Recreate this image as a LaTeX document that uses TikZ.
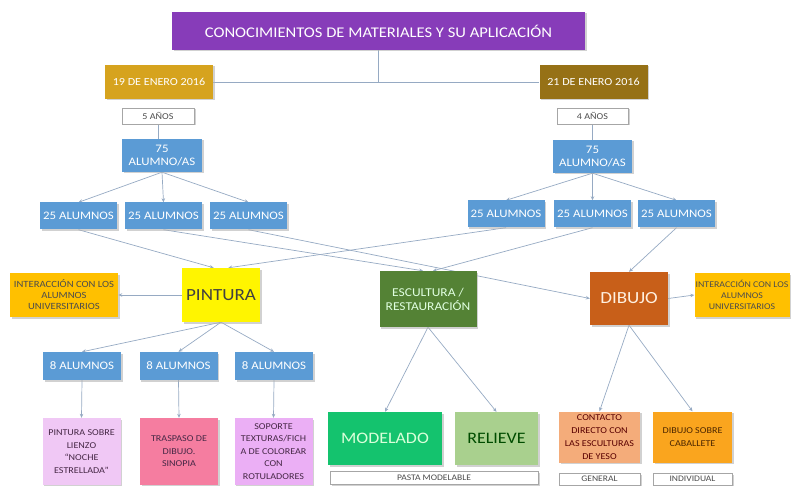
\documentclass[tikz,border=0pt]{standalone}
\usepackage{fontspec}
\setmainfont[FakeStretch=1.12]{Carlito}
\usepackage{xcolor}
\definecolor{mmpurple}{RGB}{135,60,185}
\definecolor{mmgold}{RGB}{214,163,30}
\definecolor{mmolive}{RGB}{150,113,22}
\definecolor{mmblue}{RGB}{91,155,213}
\definecolor{mmyellow}{RGB}{255,245,0}
\definecolor{mmamber}{RGB}{255,192,0}
\definecolor{mmgreen}{RGB}{84,130,53}
\definecolor{mmorange}{RGB}{200,95,25}
\definecolor{mmpinka}{RGB}{240,200,245}
\definecolor{mmpinkb}{RGB}{245,125,160}
\definecolor{mmpinkc}{RGB}{235,175,245}
\definecolor{mmmint}{RGB}{20,195,110}
\definecolor{mmsage}{RGB}{169,208,142}
\definecolor{mmsalmon}{RGB}{244,172,122}
\definecolor{mmtangerine}{RGB}{250,165,30}
\definecolor{mmline}{RGB}{150,170,195}
\definecolor{mmtext}{RGB}{70,40,70}
\usetikzlibrary{arrows.meta,shadows,backgrounds}

\begin{document}
\begin{tikzpicture}[x=1pt,y=-1pt,>={Stealth[length=4pt,width=3.5pt]},
  box/.style={rectangle,align=center,inner sep=1pt,
    drop shadow={shadow xshift=1.5pt,shadow yshift=-1.5pt,fill=black!30,opacity=0.6}},
  bluebox/.style={box,fill=mmblue,text=white,minimum width=77pt,minimum height=27pt,
    font=\fontsize{11.5}{12.5}\selectfont},
  datebox/.style={box,text=white,minimum width=108pt,minimum height=34pt,
    font=\fontsize{10.8}{12}\selectfont},
  tagbox/.style={box,fill=white,draw=black!35,text=black!70,minimum height=13pt,
    font=\fontsize{8.5}{9}\selectfont},
  infobox/.style={box,fill=mmamber,text=black!70,minimum height=44pt,
    font=\fontsize{9.5}{11}\selectfont},
  taskbox/.style={box,text=mmtext,minimum width=78pt,minimum height=67pt,
    font=\fontsize{9}{12.5}\selectfont},
  bigbox/.style={box,minimum width=78pt,minimum height=54pt,
    font=\fontsize{17}{18}\selectfont},
  link/.style={draw=mmline,line width=0.7pt},
  arrow/.style={link,->}]
  \useasboundingbox (0,0) rectangle (794,486);

  % title and dates
  \node[box,fill=mmpurple,text=white,minimum width=413pt,minimum height=38pt,
    font=\fontsize{14.8}{16}\selectfont] (title) at (378.5,31) {CONOCIMIENTOS DE MATERIALES Y SU APLICACIÓN};
  \node[datebox,fill=mmgold] (dl) at (159,82) {19 DE ENERO 2016};
  \node[datebox,fill=mmolive] (dr) at (593.5,82) {21 DE ENERO 2016};
  \node[tagbox,minimum width=72pt,minimum height=16pt,font=\fontsize{9}{10}\selectfont] (agel) at (158,116) {5 AÑOS};
  \node[tagbox,minimum width=71pt,minimum height=16pt,font=\fontsize{9}{10}\selectfont] (ager) at (592.5,116) {4 AÑOS};

  % groups
  \node[bluebox,minimum width=80pt,minimum height=33pt] (totl) at (162,155.5) {75\\ALUMNO/AS};
  \node[bluebox,minimum width=79pt,minimum height=33pt] (totr) at (592.5,156.5) {75\\ALUMNO/AS};
  \foreach \n/\x in {l1/78.5,l2/163.5,l3/248.5}
    \node[bluebox] (\n) at (\x,216) {25 ALUMNOS};
  \foreach \n/\x in {r1/506,r2/592.5,r3/676.5}
    \node[bluebox] (\n) at (\x,214) {25 ALUMNOS};

  % subjects
  \node[bigbox,fill=mmyellow,text=black!75] (pint) at (221,295) {PINTURA};
  \node[box,fill=mmgreen,text=white!88!green,minimum width=97pt,minimum height=56pt,
    font=\fontsize{12}{14}\selectfont] (esc) at (428,299) {ESCULTURA /\\RESTAURACIÓN};
  \node[bigbox,fill=mmorange,text=orange!12,minimum height=53pt] (dib) at (629,298.5) {DIBUJO};
  \node[infobox,minimum width=108pt] (intl) at (64,295) {INTERACCIÓN CON LOS\\ALUMNOS\\UNIVERSITARIOS};
  \node[infobox,minimum width=95pt,font=\fontsize{8.8}{11}\selectfont] (intr) at (742,295) {INTERACCIÓN CON LOS\\ALUMNOS\\UNIVERSITARIOS};

  % pintura
  \foreach \n/\x in {p1/82,p2/178.5,p3/274}
    \node[bluebox,minimum width=78pt,minimum height=28pt] (\n) at (\x,366) {8 ALUMNOS};
  \node[taskbox,fill=mmpinka] (t1) at (81.5,451.5) {PINTURA SOBRE\\LIENZO\\“NOCHE\\ESTRELLADA”};
  \node[taskbox,fill=mmpinkb] (t2) at (179,451.5) {TRASPASO DE\\DIBUJO.\\SINOPIA};
  \node[taskbox,fill=mmpinkc] (t3) at (273.5,451.5) {SOPORTE\\TEXTURAS/FICH\\A DE COLOREAR\\CON\\ROTULADORES};

  % escultura
  \node[box,fill=mmmint,text=white!85!green,minimum width=114pt,minimum height=53pt,
    font=\fontsize{16}{18}\selectfont] (mod) at (385,438.5) {MODELADO};
  \node[box,fill=mmsage,text=black!70!green,minimum width=83pt,minimum height=53pt,
    font=\fontsize{16}{18}\selectfont] (rel) at (496.5,438.5) {RELIEVE};
  \node[tagbox,minimum width=208pt] (pasta) at (434,478) {PASTA MODELABLE};

  % dibujo
  \node[taskbox,fill=mmsalmon,text=black!65!red,minimum width=81pt,minimum height=51pt,
    font=\fontsize{9}{12.8}\selectfont] (cont) at (599.5,437) {CONTACTO\\DIRECTO CON\\LAS ESCULTURAS\\DE YESO};
  \node[taskbox,fill=mmtangerine,text=black!70!orange,minimum width=79pt,minimum height=51pt,
    font=\fontsize{9}{12.5}\selectfont] (cab) at (692.5,437) {DIBUJO SOBRE\\CABALLETE};
  \node[tagbox,minimum width=81pt,minimum height=12pt] (gen) at (599.5,479) {GENERAL};
  \node[tagbox,minimum width=79pt,minimum height=12pt] (ind) at (692.5,479) {INDIVIDUAL};

  \begin{pgfonlayer}{background}
    \draw[link] (title.south) -- (title.south |- dl.east);
    \draw[link] (dl.east) -- (dr.west);
    \draw[link] (agel.south) -- (agel.south |- totl.north);
    \draw[link] (ager.south) -- (ager.south |- totr.north);
    \foreach \n in {l1,l2,l3} \draw[arrow] (totl.south) -- (\n.north);
    \foreach \n in {r1,r2,r3} \draw[arrow] (totr.south) -- (\n.north);
    \draw[arrow] (l1.south) -- (pint.105);
    \draw[arrow] (r1.south) -- (pint.75);
    \draw[arrow] (l2.south) -- (esc.100);
    \draw[arrow] (r2.south) -- (esc.80);
    \draw[arrow] (l3.south) -- (dib.west);
    \draw[arrow] (r3.south) -- (dib.north);
    \draw[arrow] (pint.west) -- (intl.east);
    \draw[arrow] (dib.east) -- (intr.west);
    \foreach \n in {p1,p2,p3} \draw[arrow] (pint.south) -- (\n.north);
    \foreach \n/\m in {p1/t1,p2/t2,p3/t3} \draw[arrow] (\n.south) -- (\m.north);
    \draw[arrow] (esc.south) -- (mod.north);
    \draw[arrow] (esc.south) -- (rel.north);
    \draw[arrow] (dib.south) -- (cont.north);
    \draw[arrow] (dib.south) -- (cab.north);
  \end{pgfonlayer}
\end{tikzpicture}
\end{document}
